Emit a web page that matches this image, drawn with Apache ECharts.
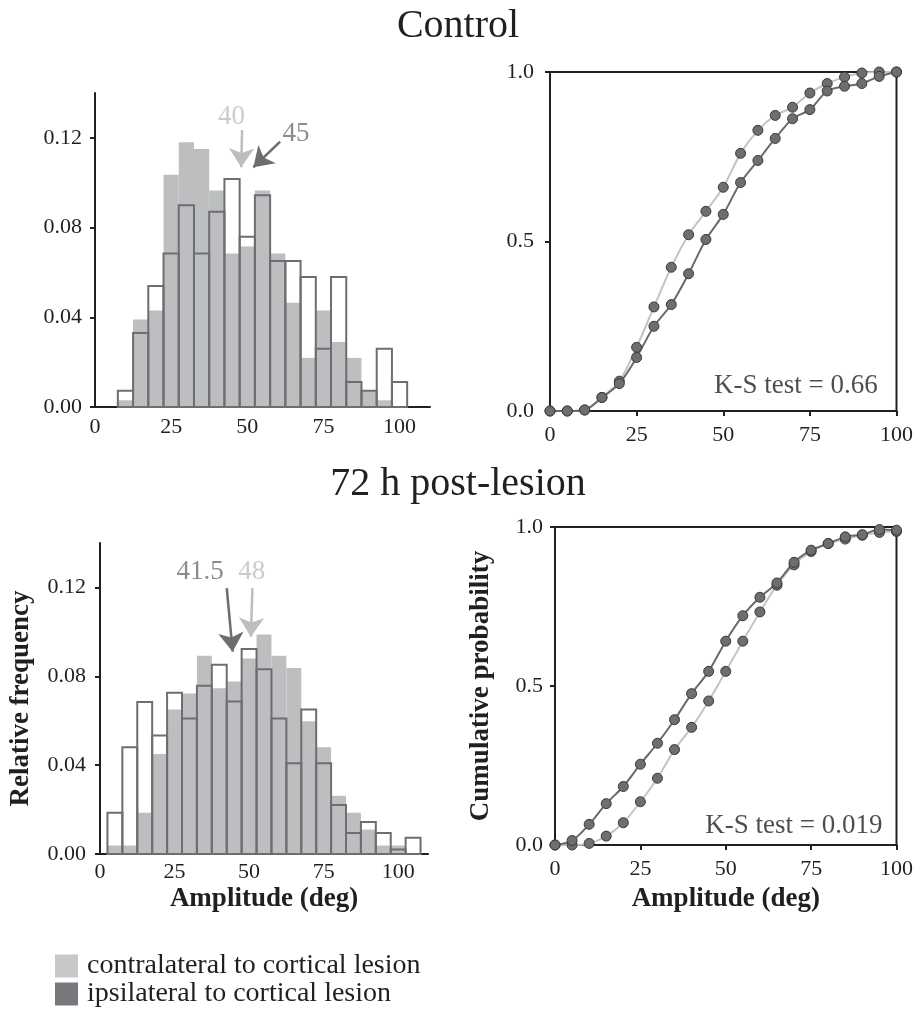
<!DOCTYPE html>
<html>
<head>
<meta charset="utf-8">
<script src="https://cdn.jsdelivr.net/npm/echarts@6/dist/echarts.min.js"></script>
<style>
  html, body { margin: 0; background: #fff; }
  #chart { width: 916px; height: 1010px; }
</style>
</head>
<body>
<div id="chart"></div>
<script>
// ---- data ----
// histogram bins (deg): start of each bin, all 5 deg wide
const binWidth = 5;
const topBinStarts = [7.5, 12.5, 17.5, 22.5, 27.5, 32.5, 37.5, 42.5, 47.5, 52.5, 57.5, 62.5, 67.5, 72.5, 77.5, 82.5, 87.5, 92.5, 97.5];
const topContra = [0.003, 0.039, 0.043, 0.1036, 0.118, 0.115, 0.0965, 0.0684, 0.0716, 0.0965, 0.0684, 0.0465, 0.0219, 0.043, 0.029, 0.0219, 0.007, 0.003, 0];
const topIpsi = [0.0072, 0.033, 0.054, 0.0684, 0.090, 0.0684, 0.087, 0.1017, 0.0759, 0.0944, 0.0651, 0.0651, 0.058, 0.026, 0.058, 0.0112, 0.0072, 0.026, 0.0112];

const botBinStarts = [2.5, 7.5, 12.5, 17.5, 22.5, 27.5, 32.5, 37.5, 42.5, 47.5, 52.5, 57.5, 62.5, 67.5, 72.5, 77.5, 82.5, 87.5, 92.5, 97.5, 102.5];
const botContra = [0.0038, 0.0038, 0.0186, 0.045, 0.065, 0.0723, 0.0893, 0.0746, 0.0776, 0.088, 0.0988, 0.0893, 0.0837, 0.0598, 0.048, 0.0262, 0.0186, 0.011, 0.0038, 0.0038, 0];
const botIpsi = [0.0186, 0.048, 0.0684, 0.0534, 0.0726, 0.061, 0.0757, 0.0852, 0.0686, 0.0923, 0.0832, 0.061, 0.0409, 0.065, 0.0409, 0.0221, 0.0095, 0.0144, 0.0095, 0.002, 0.0073];

// cumulative curves, sampled every 5 deg
const cdfX = [0, 5, 10, 15, 20, 25, 30, 35, 40, 45, 50, 55, 60, 65, 70, 75, 80, 85, 90, 95, 100];
const topCdfContra = [0, 0, 0.003, 0.04, 0.088, 0.188, 0.307, 0.424, 0.52, 0.589, 0.66, 0.76, 0.828, 0.872, 0.896, 0.938, 0.966, 0.985, 0.997, 1.0, 1.0];
const topCdfIpsi = [0, 0, 0.003, 0.04, 0.081, 0.158, 0.25, 0.314, 0.405, 0.506, 0.58, 0.674, 0.739, 0.804, 0.862, 0.889, 0.944, 0.958, 0.966, 0.987, 1.0];
const botCdfContra = [0, 0, 0.005, 0.028, 0.07, 0.136, 0.21, 0.3, 0.37, 0.453, 0.546, 0.641, 0.733, 0.817, 0.881, 0.923, 0.948, 0.962, 0.974, 0.983, 0.986];
const botCdfIpsi = [0, 0.014, 0.065, 0.13, 0.184, 0.254, 0.32, 0.394, 0.476, 0.546, 0.641, 0.721, 0.779, 0.824, 0.889, 0.927, 0.948, 0.969, 0.976, 0.992, 0.99];

// tick labels
const ampTicks = [0, 25, 50, 75, 100];
const freqTicks = [0, 0.04, 0.08, 0.12];
const probTicks = [0, 0.5, 1];

// median markers: label, [x, y] of text, arrow from -> to
const topMedians = [
    { label: '40', side: 'contra', text: [44.8, 0.1295], from: [48.3, 0.1235], to: [48.0, 0.1069] },
    { label: '45', side: 'ipsi', text: [66.0, 0.1217], from: [60.8, 0.1183], to: [52.0, 0.1069] }
];
const botMedians = [
    { label: '41.5', side: 'ipsi', text: [33.6, 0.1269], from: [42.5, 0.1197], to: [44.5, 0.0911] },
    { label: '48', side: 'contra', text: [50.9, 0.1269], from: [51.1, 0.1197], to: [50.6, 0.0978] }
];

const CONTRA_NAME = 'contralateral to cortical lesion';
const IPSI_NAME = 'ipsilateral to cortical lesion';

// ---- styles ----
const INK = '#231f20';
const LIGHT = '#bcbec0';
const DARK = '#6d6e71';
const SERIF = '"Liberation Serif", "DejaVu Serif", serif';

const sideColour = { contra: LIGHT, ipsi: DARK };

function binRenderer(fill, stroke, lineWidth) {
    return function (params, api) {
        const x0 = api.value(0);
        const h = api.value(1);
        const p0 = api.coord([x0, 0]);
        const p1 = api.coord([x0 + binWidth, h]);
        return {
            type: 'rect',
            shape: { x: p0[0], y: p1[1], width: p1[0] - p0[0], height: p0[1] - p1[1] },
            style: { fill: fill, stroke: stroke, lineWidth: lineWidth }
        };
    };
}

function histSeries(name, starts, values, idx, filled) {
    return {
        name: name,
        type: 'custom',
        xAxisIndex: idx,
        yAxisIndex: idx,
        renderItem: filled ? binRenderer(LIGHT, null, 0) : binRenderer('none', DARK, 2),
        encode: { x: 0, y: 1 },
        data: starts.map((s, i) => [s, values[i]]),
        z: filled ? 2 : 3
    };
}

function cdfSeries(name, ys, idx, lineColour) {
    return {
        name: name,
        type: 'line',
        xAxisIndex: idx,
        yAxisIndex: idx,
        data: cdfX.map((x, i) => [x, ys[i]]),
        smooth: 0.3,
        symbol: 'circle',
        symbolSize: 10,
        lineStyle: { color: lineColour, width: 2 },
        itemStyle: { color: DARK, borderColor: '#3a3a3a', borderWidth: 1 },
        z: lineColour === LIGHT ? 3 : 4
    };
}

function medianSeries(items, idx) {
    return {
        type: 'scatter',
        xAxisIndex: idx,
        yAxisIndex: idx,
        symbolSize: 0,
        itemStyle: { color: 'transparent' },
        silent: true,
        data: items.map(m => ({
            value: m.text,
            label: {
                show: true, position: 'inside', formatter: m.label,
                color: sideColour[m.side], fontSize: 27, fontFamily: SERIF
            }
        })),
        markLine: {
            silent: true,
            symbol: ['none', 'arrow'],
            symbolSize: 19,
            label: { show: false },
            animation: false,
            data: items.map(m => [
                { coord: m.from, lineStyle: { color: sideColour[m.side], width: 2.5, type: 'solid' } },
                { coord: m.to }
            ])
        }
    };
}

function noteSeries(text, pos, idx) {
    return {
        type: 'scatter',
        xAxisIndex: idx,
        yAxisIndex: idx,
        symbolSize: 0,
        itemStyle: { color: 'transparent' },
        silent: true,
        data: [{
            value: pos,
            label: {
                show: true, position: 'inside', align: 'right', formatter: text,
                color: INK, fontSize: 27, fontFamily: SERIF
            }
        }]
    };
}

const tickText = { color: INK, fontSize: 22, fontFamily: SERIF };
const nameText = { color: INK, fontSize: 27, fontFamily: SERIF, fontWeight: 'bold' };

function ampAxis(idx, max, margin, opts) {
    return Object.assign({
        type: 'value',
        gridIndex: idx,
        min: 0,
        max: max,
        axisLine: { lineStyle: { color: INK, width: 2 } },
        axisTick: { show: false },
        axisLabel: Object.assign({ customValues: ampTicks, margin: margin }, tickText),
        splitLine: { show: false }
    }, opts || {});
}

function valueAxis(idx, max, ticks, digits, margin, opts) {
    return Object.assign({
        type: 'value',
        gridIndex: idx,
        min: 0,
        max: max,
        axisLine: { lineStyle: { color: INK, width: 2 } },
        axisTick: { show: true, length: 5, customValues: ticks, lineStyle: { color: INK, width: 2 } },
        axisLabel: Object.assign({ customValues: ticks, margin: margin, formatter: v => v.toFixed(digits) }, tickText),
        splitLine: { show: false }
    }, opts || {});
}

// one legend box per line, stacked
function legendRow(top, name, colour) {
    return {
        left: 55,
        top: top,
        padding: 0,
        itemWidth: 23,
        itemHeight: 23,
        selectedMode: false,
        textStyle: { color: INK, fontSize: 28, fontFamily: SERIF, padding: [0, 0, 0, 4] },
        data: [{ name: name, icon: 'rect', itemStyle: { color: colour, borderWidth: 0 } }]
    };
}

const cdfTicks = { show: true, length: 5, customValues: ampTicks, lineStyle: { color: INK, width: 2 } };

const chart = echarts.init(document.getElementById('chart'));

chart.setOption({
    animation: false,
    backgroundColor: '#fff',
    textStyle: { fontFamily: SERIF },
    grid: [
        { left: 95, top: 93, width: 335, height: 314 },
        { left: 550, top: 72, width: 349, height: 339, show: true, borderColor: INK, borderWidth: 2 },
        { left: 100, top: 543, width: 328, height: 311 },
        { left: 555, top: 527, width: 346, height: 318, show: true, borderColor: INK, borderWidth: 2 }
    ],
    xAxis: [
        ampAxis(0, 110, 9),
        ampAxis(1, 100, 13, { axisTick: cdfTicks }),
        ampAxis(2, 110, 7, { name: 'Amplitude (deg)', nameLocation: 'middle', nameGap: 32, nameTextStyle: nameText }),
        ampAxis(3, 100, 13, { axisTick: cdfTicks, name: 'Amplitude (deg)', nameLocation: 'middle', nameGap: 41, nameTextStyle: nameText })
    ],
    yAxis: [
        valueAxis(0, 0.14, freqTicks, 2, 13),
        valueAxis(1, 1, probTicks, 1, 16),
        valueAxis(2, 0.14, freqTicks, 2, 14, { name: 'Relative frequency', nameLocation: 'middle', nameGap: 65, nameTextStyle: nameText }),
        valueAxis(3, 1, probTicks, 1, 12, { name: 'Cumulative probability', nameLocation: 'middle', nameGap: 60, nameTextStyle: nameText })
    ],
    legend: [
        legendRow(952, CONTRA_NAME, '#c7c8ca'),
        legendRow(980, IPSI_NAME, '#77787b')
    ],
    graphic: [
        { type: 'text', x: 458, y: 26, style: { text: 'Control', fontSize: 40, fontFamily: SERIF, fill: INK, textAlign: 'center', textVerticalAlign: 'middle' } },
        { type: 'text', x: 458, y: 484, style: { text: '72 h post-lesion', fontSize: 40, fontFamily: SERIF, fill: INK, textAlign: 'center', textVerticalAlign: 'middle' } }
    ],
    series: [
        // Control
        histSeries(CONTRA_NAME, topBinStarts, topContra, 0, true),
        histSeries(IPSI_NAME, topBinStarts, topIpsi, 0, false),
        medianSeries(topMedians, 0),
        cdfSeries(CONTRA_NAME, topCdfContra, 1, '#c4c4c4'),
        cdfSeries(IPSI_NAME, topCdfIpsi, 1, '#6a6a6a'),
        noteSeries('K-S test = 0.66', [94.6, 0.074], 1),
        // 72 h post-lesion
        histSeries(CONTRA_NAME, botBinStarts, botContra, 2, true),
        histSeries(IPSI_NAME, botBinStarts, botIpsi, 2, false),
        medianSeries(botMedians, 2),
        cdfSeries(CONTRA_NAME, botCdfContra, 3, '#c4c4c4'),
        cdfSeries(IPSI_NAME, botCdfIpsi, 3, '#6a6a6a'),
        noteSeries('K-S test = 0.019', [95.9, 0.06], 3)
    ]
});
</script>
</body>
</html>
